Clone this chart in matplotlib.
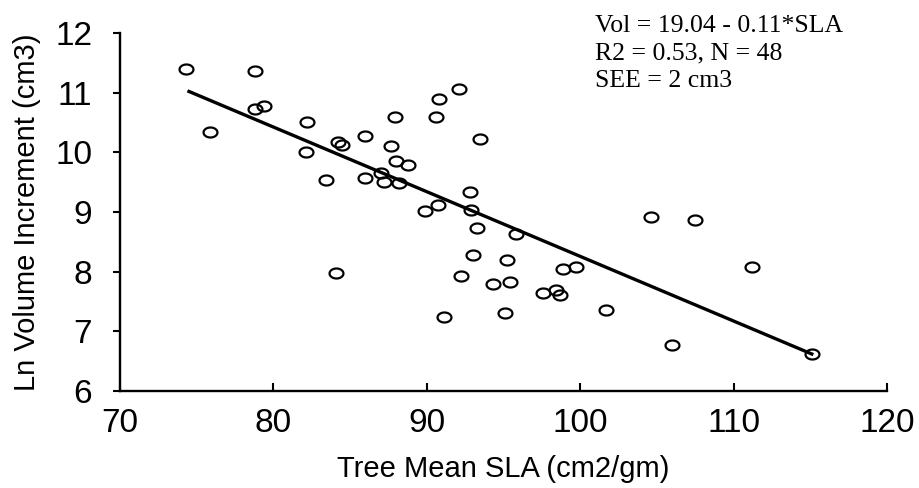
import numpy as np
import matplotlib
matplotlib.use("Agg")
import matplotlib.pyplot as plt
from matplotlib.path import Path

# tree mean SLA (cm2/gm) vs ln volume increment
sla = [74.3, 75.9, 78.8, 78.8, 79.4, 82.2, 82.1, 83.4, 84.2, 84.5,
       86.0, 86.0, 84.1, 92.1, 90.8, 87.9, 90.6, 93.5, 87.7, 88.0,
       88.8, 87.0, 87.2, 88.2, 92.8, 92.9, 90.7, 89.9, 93.3, 95.8,
       93.0, 95.2, 92.2, 94.3, 95.4, 98.9, 99.7, 97.6, 98.4, 98.7,
       91.1, 95.1, 101.7, 104.6, 107.5, 111.2, 106.0, 115.1]
ln_vol = [11.40, 10.34, 11.37, 10.73, 10.77, 10.50, 10.00, 9.53, 10.18, 10.12,
          10.27, 9.57, 7.97, 11.06, 10.89, 10.59, 10.59, 10.22, 10.11, 9.85,
          9.79, 9.66, 9.51, 9.48, 9.33, 9.04, 9.12, 9.01, 8.73, 8.63,
          8.28, 8.20, 7.93, 7.80, 7.82, 8.05, 8.07, 7.65, 7.69, 7.61,
          7.24, 7.30, 7.35, 8.91, 8.86, 8.08, 6.77, 6.62]

# regression line ends
fit_x = [74.5, 115.1]
fit_y = [11.02, 6.62]

stats_lines = ["Vol = 19.04 - 0.11*SLA", "R2 = 0.53, N = 48", "SEE = 2 cm3"]

xticks = [70, 80, 90, 100, 110, 120]
yticks = [6, 7, 8, 9, 10, 11, 12]

plt.rcParams['font.family'] = ['Liberation Sans', 'DejaVu Sans']

# slightly flattened circle like the scanned markers
t = np.linspace(0, 2 * np.pi, 60)
ellipse = Path(np.column_stack([np.cos(t), 0.72 * np.sin(t)]), closed=True)

fig = plt.figure(figsize=(9.2, 4.88), dpi=100)
ax = fig.add_axes([0.1304, 0.1988, 0.8337, 0.7336])

ax.plot(sla, ln_vol, linestyle='none', marker=ellipse, markersize=10,
        markerfacecolor='none', markeredgecolor='black', markeredgewidth=1.6)
ax.plot(fit_x, fit_y, color='black', linewidth=2.4)

ax.set_xlim(70, 120)
ax.set_ylim(6, 12)
ax.set_xticks(xticks)
ax.set_yticks(yticks)

for side in ['top', 'right']:
    ax.spines[side].set_visible(False)
for side in ['left', 'bottom']:
    ax.spines[side].set_linewidth(1.7)

ax.tick_params(axis='x', direction='in', length=6, width=1.5, pad=12, labelsize=24)
ax.tick_params(axis='y', direction='out', length=5, width=1.5, pad=15, labelsize=24)

ax.set_xlabel('Tree Mean SLA (cm2/gm)', fontsize=21, labelpad=12)
ax.set_ylabel('Ln Volume Increment (cm3)', fontsize=21, labelpad=10)

baselines = [0.9344, 0.878, 0.8217]
for line, yb in zip(stats_lines, baselines):
    fig.text(0.6467, yb, line, family='Liberation Serif', fontsize=18.5,
             va='baseline', ha='left')

fig.savefig('out.png', dpi=100)
